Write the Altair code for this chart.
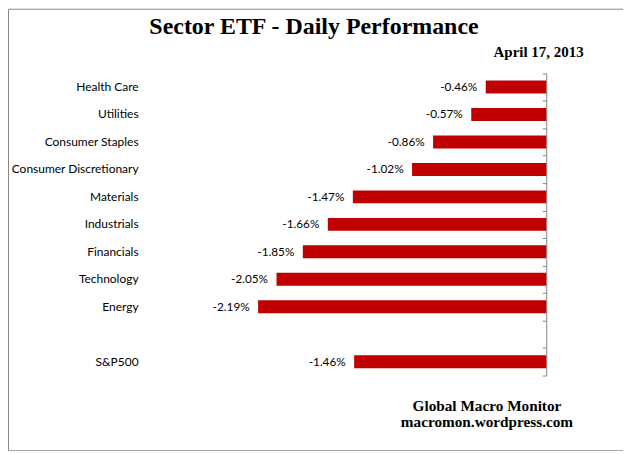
import altair as alt
import pandas as pd

# ---- data ----
categories = ["Health Care", "Utilities", "Consumer Staples", "Consumer Discretionary",
              "Materials", "Industrials", "Financials", "Technology", "Energy", " ", "S&P500"]
sectors = ["Health Care", "Utilities", "Consumer Staples", "Consumer Discretionary",
           "Materials", "Industrials", "Financials", "Technology", "Energy", "S&P500"]
changes = [-0.46, -0.57, -0.86, -1.02, -1.47, -1.66, -1.85, -2.05, -2.19, -1.46]

title_text = "Sector ETF - Daily Performance"
date_text = "April 17, 2013"
footer_lines = ["Global Macro Monitor", "macromon.wordpress.com"]

df = pd.DataFrame({"sector": sectors, "change": changes})

W, H = 617, 443
RED = "#C00000"
GRAY = "#868686"
SERIF = "Liberation Serif"
SANS = "Lato"

x_scale = alt.Scale(domain=[-4.0909, 0.5833], nice=False, zero=False)
y_scale = alt.Scale(domain=categories, range=[64.7, 368], paddingInner=0, paddingOuter=0)

base = alt.Chart(df)

bars = base.mark_bar(color=RED, size=13).encode(
    x=alt.X("change:Q", scale=x_scale,
            axis=alt.Axis(orient="bottom", labels=False, ticks=False, domain=False, grid=False,
                          title=footer_lines, titleX=480, titleY=-40, titleAngle=0,
                          titleAlign="center", titleBaseline="alphabetic",
                          titleFont=SERIF, titleFontSize=15.3, titleFontWeight="bold",
                          titleColor="#000000", titleLineHeight=15.7)),
    y=alt.Y("sector:N", scale=y_scale, sort=categories,
            axis=alt.Axis(orient="left", offset=-130.5, ticks=False, tickSize=0, domain=False,
                          grid=False, labelPadding=0, labelFont=SANS, labelFontSize=12,
                          labelColor="#000000",
                          title=title_text, titleX=176, titleY=24.7, titleAngle=0,
                          titleAlign="center", titleBaseline="alphabetic",
                          titleFont=SERIF, titleFontSize=24, titleFontWeight="bold",
                          titleColor="#000000")),
)

labels = base.transform_calculate(
    label="(datum.change < 0 ? '-' : '') + format(abs(datum.change), '.2f') + '%'"
).mark_text(align="right", baseline="middle", dx=-8.5, font=SANS, fontSize=11.8,
            color="#000000").encode(
    x=alt.X("change:Q", scale=x_scale, axis=None),
    y=alt.Y("sector:N", scale=y_scale, sort=categories,
            axis=alt.Axis(orient="left", offset=-540, labels=False, ticks=True, tickSize=4,
                          tickColor=GRAY, tickWidth=1, tickBand="extent",
                          domain=True, domainColor=GRAY, domainWidth=1, grid=False,
                          title=date_text, titleX=37, titleY=48, titleAngle=0,
                          titleAlign="right", titleBaseline="alphabetic",
                          titleFont=SERIF, titleFontSize=15, titleFontWeight="bold",
                          titleColor="#000000")),
    text="label:N",
)

chart = alt.layer(bars, labels).resolve_axis(
    x="independent", y="independent"
).properties(
    width=W, height=H, padding=0
).configure_view(
    stroke=GRAY, strokeWidth=1
)

chart.save("out.html", embed_options={"renderer": "svg", "actions": False})
